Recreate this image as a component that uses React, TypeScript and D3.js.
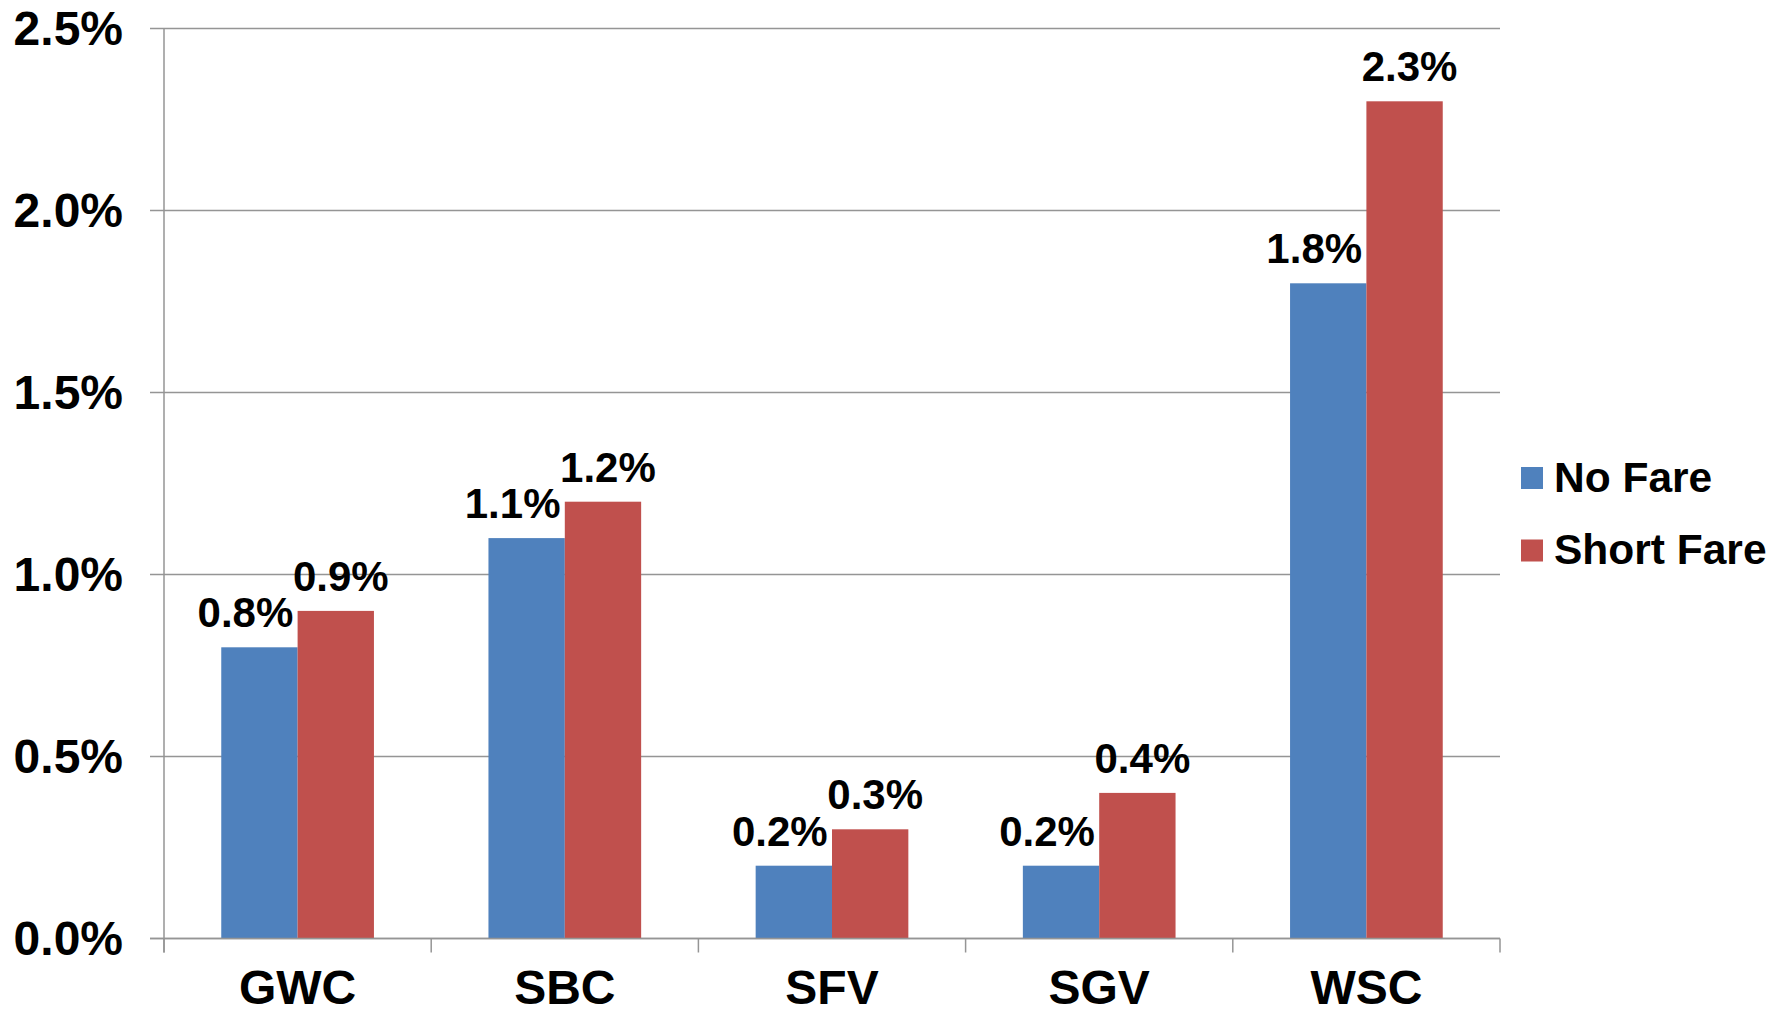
import { useRef, useEffect } from "react";
import * as d3 from "d3";

const regions = ["GWC", "SBC", "SFV", "SGV", "WSC"];
const noFare = [0.8, 1.1, 0.2, 0.2, 1.8];
const shortFare = [0.9, 1.2, 0.3, 0.4, 2.3];
const seriesNames = ["No Fare", "Short Fare"];
const yTicks = [0, 0.5, 1.0, 1.5, 2.0, 2.5];

const colors = ["#4F81BD", "#C0504D"];
const FONT = "'Liberation Sans', Arial, sans-serif";

export default function App() {
  const ref = useRef<SVGSVGElement | null>(null);

  useEffect(() => {
    const width = 1781, height = 1016;
    const margin = { top: 28.5, right: 281, bottom: 77.5, left: 164 };
    const svg = d3.select(ref.current);
    svg.selectAll("*").remove();

    const x = d3.scaleBand<string>()
      .domain(regions)
      .range([margin.left, width - margin.right]);
    const y = d3.scaleLinear().domain([0, 2.5]).range([height - margin.bottom, margin.top]);

    // Excel-like gap width 150%
    const barW = x.bandwidth() / 3.5;
    const grey = "#959595";

    // gridlines + y ticks
    svg.append("g")
      .selectAll("line")
      .data(yTicks)
      .enter()
      .append("line")
      .attr("x1", margin.left - 14)
      .attr("x2", width - margin.right)
      .attr("y1", (d) => y(d))
      .attr("y2", (d) => y(d))
      .attr("stroke", grey)
      .attr("stroke-width", 1.5);

    svg.append("g")
      .selectAll("text")
      .data(yTicks)
      .enter()
      .append("text")
      .attr("x", margin.left - 41)
      .attr("y", (d) => y(d) + 16.5)
      .attr("text-anchor", "end")
      .attr("font-family", FONT)
      .attr("font-weight", "bold")
      .attr("font-size", 48)
      .text((d) => d.toFixed(1) + "%");

    // y axis line
    svg.append("line")
      .attr("x1", margin.left).attr("x2", margin.left)
      .attr("y1", y(2.5)).attr("y2", y(0) + 14)
      .attr("stroke", grey).attr("stroke-width", 1.5);

    // x category boundary ticks
    const bounds = regions.map((r) => x(r) as number).concat([width - margin.right]);
    svg.append("g")
      .selectAll("line")
      .data(bounds)
      .enter()
      .append("line")
      .attr("x1", (d) => d).attr("x2", (d) => d)
      .attr("y1", y(0)).attr("y2", y(0) + 14)
      .attr("stroke", grey).attr("stroke-width", 1.5);

    const series = [noFare, shortFare];
    const labelNudge = [-14, 5];
    series.forEach((vals, si) => {
      const g = svg.append("g");
      g.selectAll("rect")
        .data(vals)
        .enter()
        .append("rect")
        .attr("x", (d, i) => (x(regions[i]) as number) + x.bandwidth() / 2 - barW + si * barW)
        .attr("y", (d) => y(d))
        .attr("width", barW)
        .attr("height", (d) => y(0) - y(d))
        .attr("fill", colors[si]);
      g.selectAll("text")
        .data(vals)
        .enter()
        .append("text")
        .attr("x", (d, i) => (x(regions[i]) as number) + x.bandwidth() / 2 - barW / 2 + si * barW + labelNudge[si])
        .attr("y", (d) => y(d) - 20)
        .attr("text-anchor", "middle")
        .attr("font-family", FONT)
        .attr("font-weight", "bold")
        .attr("font-size", 42)
        .text((d) => d.toFixed(1) + "%");
    });

    // x axis baseline on top of bars
    svg.append("line")
      .attr("x1", margin.left - 14).attr("x2", width - margin.right)
      .attr("y1", y(0)).attr("y2", y(0))
      .attr("stroke", grey).attr("stroke-width", 1.5);

    // category labels
    svg.append("g")
      .selectAll("text")
      .data(regions)
      .enter()
      .append("text")
      .attr("x", (d) => (x(d) as number) + x.bandwidth() / 2)
      .attr("y", 1004)
      .attr("text-anchor", "middle")
      .attr("font-family", FONT)
      .attr("font-weight", "bold")
      .attr("font-size", 48)
      .text((d) => d);

    // legend
    const legend = svg.append("g").attr("transform", "translate(1521, 467)");
    seriesNames.forEach((name, i) => {
      legend.append("rect")
        .attr("x", 0).attr("y", i * 72.5)
        .attr("width", 22).attr("height", 22)
        .attr("fill", colors[i]);
      legend.append("text")
        .attr("x", 33).attr("y", i * 72.5 + 24.5)
        .attr("font-family", FONT)
        .attr("font-weight", "bold")
        .attr("font-size", 42.5)
        .text(name);
    });
  }, []);

  return (
    <div style={{ position: "absolute", left: 0, top: 0, background: "#fff" }}>
      <svg ref={ref} width={1781} height={1016} />
    </div>
  );
}
